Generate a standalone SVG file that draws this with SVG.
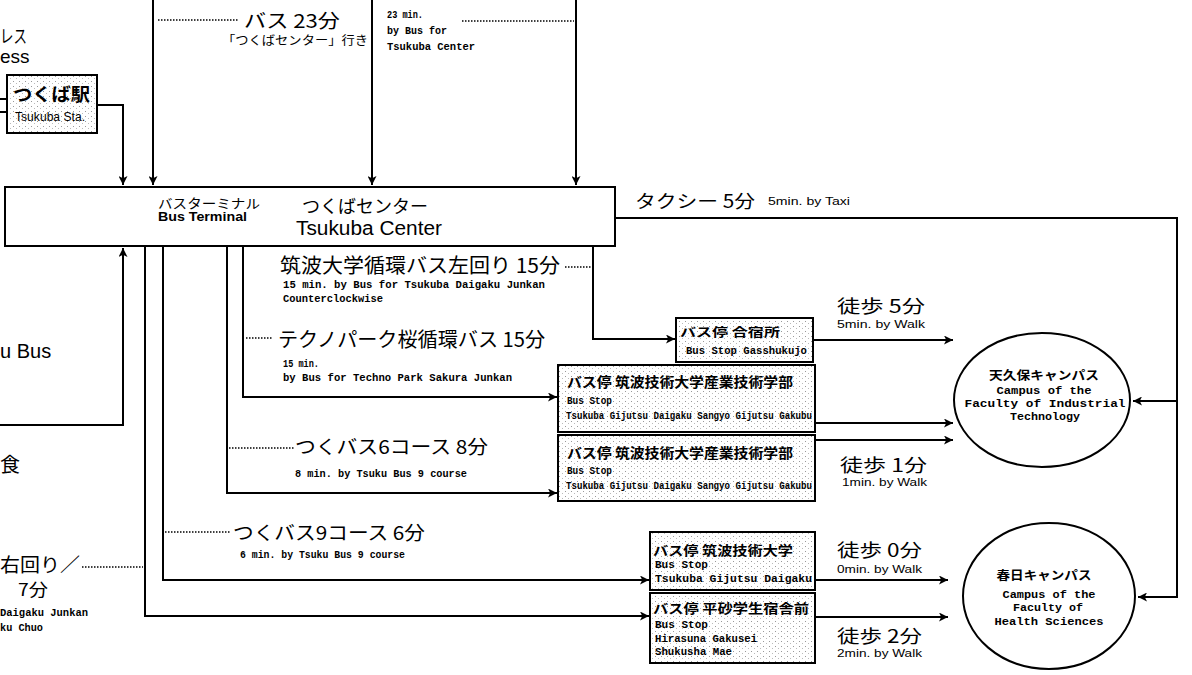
<svg xmlns="http://www.w3.org/2000/svg" width="1192" height="675" viewBox="0 0 1192 675">
<style>
.ln{fill:none;stroke:#000;stroke-width:2}
.dot{fill:none;stroke:#000;stroke-width:1.5;stroke-dasharray:1.5 1.5}
.box{fill:url(#tone);stroke:#000;stroke-width:2}
.cbox{fill:#fff;stroke:#000;stroke-width:2}
.ell{fill:#fff;stroke:#000;stroke-width:2}
.jp{font-family:"Noto Sans CJK JP","Noto Sans",sans-serif;fill:#000}
.jb{font-family:"Noto Sans CJK JP","Noto Sans",sans-serif;font-weight:bold;fill:#000}
.en{font-family:"Liberation Sans",Arial,sans-serif;fill:#000}
.mo{font-family:"Liberation Mono","DejaVu Sans Mono",monospace;font-weight:bold;fill:#000}
.mid{text-anchor:middle}
</style>
<defs>
<marker id="ah" viewBox="0 0 10 10" refX="10" refY="5" markerWidth="11" markerHeight="9" markerUnits="userSpaceOnUse" orient="auto">
<path d="M0,0 L10,5 L0,10 L2.5,5 z" fill="#000"/>
</marker>
<pattern id="tone" width="6" height="5" patternUnits="userSpaceOnUse">
<rect width="6" height="5" fill="#fff"/>
<rect x="1" y="1" width="1" height="1" fill="#999"/>
<rect x="4" y="3" width="1" height="1" fill="#bbb"/>
</pattern>
</defs>
<rect width="1192" height="675" fill="#fff"/>

<g id="connectors">
<path class="ln" d="M97,105 H123 V185" marker-end="url(#ah)"/>
<path class="ln" d="M153,0 V185" marker-end="url(#ah)"/>
<path class="ln" d="M372,0 V185" marker-end="url(#ah)"/>
<path class="ln" d="M576,0 V185" marker-end="url(#ah)"/>
<path class="ln" d="M0,425 H123 V248" marker-end="url(#ah)"/>
<path class="ln" d="M145,246 V616 H649" marker-end="url(#ah)"/>
<path class="ln" d="M163,246 V580 H649" marker-end="url(#ah)"/>
<path class="ln" d="M227,246 V493 H557" marker-end="url(#ah)"/>
<path class="ln" d="M243,246 V397 H557" marker-end="url(#ah)"/>
<path class="ln" d="M593,246 V339 H675" marker-end="url(#ah)"/>
<path class="ln" d="M813,340 H953" marker-end="url(#ah)"/>
<path class="ln" d="M815,423 H953" marker-end="url(#ah)"/>
<path class="ln" d="M815,440 H953" marker-end="url(#ah)"/>
<path class="ln" d="M815,580 H948" marker-end="url(#ah)"/>
<path class="ln" d="M815,617 H948" marker-end="url(#ah)"/>
<path class="ln" d="M615,218 H1177 V597 H1138" marker-end="url(#ah)"/>
<path class="ln" d="M1177,401 H1133" marker-end="url(#ah)"/>
<path class="ln" d="M0,99 H7 M0,112 H7"/>
<path class="dot" d="M158,20 H238"/>
<path class="dot" d="M462,21 H574"/>
<path class="dot" d="M565,267 H592"/>
<path class="dot" d="M246,338 H273"/>
<path class="dot" d="M229,448 H295"/>
<path class="dot" d="M165,532 H230"/>
<path class="dot" d="M82,567 H143"/>
</g>

<g id="labels">
<text class="jp" x="0" y="43" font-size="18" textLength="27" lengthAdjust="spacingAndGlyphs">レス</text>
<text class="en" x="0" y="63" font-size="19">ess</text>
<text class="jp" x="244" y="28" font-size="19" textLength="96" lengthAdjust="spacingAndGlyphs">バス 23分</text>
<text class="jp" x="222" y="45" font-size="12" textLength="146" lengthAdjust="spacingAndGlyphs">「つくばセンター」行き</text>
<text class="mo" x="387" y="18" font-size="10" textLength="36" lengthAdjust="spacingAndGlyphs">23 min.</text>
<text class="mo" x="387" y="34" font-size="10" textLength="60" lengthAdjust="spacingAndGlyphs">by Bus for</text>
<text class="mo" x="387" y="50" font-size="10" textLength="88" lengthAdjust="spacingAndGlyphs">Tsukuba Center</text>
<text class="jp" x="635" y="208" font-size="18" textLength="120" lengthAdjust="spacingAndGlyphs">タクシー 5分</text>
<text class="en" x="768" y="205" font-size="11" textLength="82" lengthAdjust="spacingAndGlyphs">5min. by Taxi</text>
<text class="jp" x="280" y="273" font-size="20" textLength="280" lengthAdjust="spacingAndGlyphs">筑波大学循環バス左回り 15分</text>
<text class="mo" x="283" y="288" font-size="10" textLength="262" lengthAdjust="spacingAndGlyphs">15 min. by Bus for Tsukuba Daigaku Junkan</text>
<text class="mo" x="283" y="302" font-size="10" textLength="100" lengthAdjust="spacingAndGlyphs">Counterclockwise</text>
<text class="jp" x="278" y="347" font-size="20" textLength="267" lengthAdjust="spacingAndGlyphs">テクノパーク桜循環バス 15分</text>
<text class="mo" x="283" y="367" font-size="10" textLength="36" lengthAdjust="spacingAndGlyphs">15 min.</text>
<text class="mo" x="283" y="381" font-size="10" textLength="229" lengthAdjust="spacingAndGlyphs">by Bus for Techno Park Sakura Junkan</text>
<text class="en" x="0" y="358" font-size="20">u Bus</text>
<text class="jp" x="0" y="472" font-size="20">食</text>
<text class="jp" x="295" y="454" font-size="19" textLength="193" lengthAdjust="spacingAndGlyphs">つくバス6コース 8分</text>
<text class="mo" x="295" y="477" font-size="10" textLength="172" lengthAdjust="spacingAndGlyphs">8 min. by Tsuku Bus 9 course</text>
<text class="jp" x="233" y="540" font-size="19" textLength="192" lengthAdjust="spacingAndGlyphs">つくバス9コース 6分</text>
<text class="mo" x="240" y="558" font-size="10" textLength="165" lengthAdjust="spacingAndGlyphs">6 min. by Tsuku Bus 9 course</text>
<text class="jp" x="0" y="572" font-size="19" textLength="80" lengthAdjust="spacingAndGlyphs">右回り／</text>
<text class="jp" x="18" y="596" font-size="17" textLength="30" lengthAdjust="spacingAndGlyphs">7分</text>
<text class="mo" x="0" y="616" font-size="10" textLength="88" lengthAdjust="spacingAndGlyphs">Daigaku Junkan</text>
<text class="mo" x="0" y="631" font-size="10" textLength="43" lengthAdjust="spacingAndGlyphs">ku Chuo</text>
<text class="jp" x="837" y="313" font-size="18" textLength="88" lengthAdjust="spacingAndGlyphs">徒歩 5分</text>
<text class="en" x="837" y="328" font-size="11" textLength="88" lengthAdjust="spacingAndGlyphs">5min. by Walk</text>
<text class="jp" x="840" y="472" font-size="18" textLength="87" lengthAdjust="spacingAndGlyphs">徒歩 1分</text>
<text class="en" x="842" y="486" font-size="11" textLength="85" lengthAdjust="spacingAndGlyphs">1min. by Walk</text>
<text class="jp" x="837" y="557" font-size="18" textLength="85" lengthAdjust="spacingAndGlyphs">徒歩 0分</text>
<text class="en" x="837" y="573" font-size="11" textLength="85" lengthAdjust="spacingAndGlyphs">0min. by Walk</text>
<text class="jp" x="837" y="643" font-size="18" textLength="85" lengthAdjust="spacingAndGlyphs">徒歩 2分</text>
<text class="en" x="837" y="657" font-size="11" textLength="85" lengthAdjust="spacingAndGlyphs">2min. by Walk</text>
</g>

<g id="tsukuba-center">
<rect class="cbox" x="5" y="187" width="610" height="59"/>
<text class="jp" x="158" y="208" font-size="13" textLength="102" lengthAdjust="spacingAndGlyphs">バスターミナル</text>
<text class="en" x="158" y="221" font-size="12" font-weight="bold" textLength="89" lengthAdjust="spacingAndGlyphs">Bus Terminal</text>
<text class="jp" x="302" y="213" font-size="18" textLength="126" lengthAdjust="spacingAndGlyphs">つくばセンター</text>
<text class="en" x="296" y="235" font-size="20" textLength="146" lengthAdjust="spacingAndGlyphs">Tsukuba Center</text>
</g>

<g id="tsukuba-sta">
<rect class="box" x="7" y="75" width="90" height="58"/>
<text class="jb" x="13" y="101" font-size="18" textLength="77" lengthAdjust="spacingAndGlyphs">つくば駅</text>
<text class="en" x="15" y="121" font-size="13" textLength="70" lengthAdjust="spacingAndGlyphs">Tsukuba Sta.</text>
</g>

<g id="stop-gasshukujo">
<rect class="box" x="676" y="318" width="137" height="44"/>
<text class="jb" x="680" y="337" font-size="12" textLength="100" lengthAdjust="spacingAndGlyphs">バス停 合宿所</text>
<text class="mo" x="686" y="354" font-size="10" textLength="121" lengthAdjust="spacingAndGlyphs">Bus Stop Gasshukujo</text>
</g>

<g id="stop-sangyo-1">
<rect class="box" x="558" y="365" width="257" height="67"/>
<text class="jb" x="567" y="387" font-size="14" textLength="226" lengthAdjust="spacingAndGlyphs">バス停 筑波技術大学産業技術学部</text>
<text class="mo" x="567" y="404" font-size="10" textLength="45" lengthAdjust="spacingAndGlyphs">Bus Stop</text>
<text class="mo" x="566" y="419" font-size="10" textLength="246" lengthAdjust="spacingAndGlyphs">Tsukuba Gijutsu Daigaku Sangyo Gijutsu Gakubu</text>
</g>

<g id="stop-sangyo-2">
<rect class="box" x="558" y="435" width="257" height="66"/>
<text class="jb" x="567" y="458" font-size="14" textLength="226" lengthAdjust="spacingAndGlyphs">バス停 筑波技術大学産業技術学部</text>
<text class="mo" x="567" y="474" font-size="10" textLength="45" lengthAdjust="spacingAndGlyphs">Bus Stop</text>
<text class="mo" x="566" y="489" font-size="10" textLength="246" lengthAdjust="spacingAndGlyphs">Tsukuba Gijutsu Daigaku Sangyo Gijutsu Gakubu</text>
</g>

<g id="stop-gijutsu-daigaku">
<rect class="box" x="650" y="532" width="165" height="58"/>
<text class="jb" x="653" y="555" font-size="13" textLength="140" lengthAdjust="spacingAndGlyphs">バス停 筑波技術大学</text>
<text class="mo" x="655" y="568" font-size="10" textLength="53" lengthAdjust="spacingAndGlyphs">Bus Stop</text>
<text class="mo" x="655" y="582" font-size="10" textLength="157" lengthAdjust="spacingAndGlyphs">Tsukuba Gijutsu Daigaku</text>
</g>

<g id="stop-hirasuna">
<rect class="box" x="650" y="593" width="165" height="70"/>
<text class="jb" x="653" y="613" font-size="13" textLength="156" lengthAdjust="spacingAndGlyphs">バス停 平砂学生宿舎前</text>
<text class="mo" x="655" y="628" font-size="10" textLength="53" lengthAdjust="spacingAndGlyphs">Bus Stop</text>
<text class="mo" x="655" y="642" font-size="10" textLength="102" lengthAdjust="spacingAndGlyphs">Hirasuna Gakusei</text>
<text class="mo" x="655" y="655" font-size="10" textLength="77" lengthAdjust="spacingAndGlyphs">Shukusha Mae</text>
</g>

<g id="campus-amakubo">
<ellipse class="ell" cx="1042" cy="400" rx="88" ry="67"/>
<text class="jb mid" x="1044" y="380" font-size="12" textLength="110" lengthAdjust="spacingAndGlyphs">天久保キャンパス</text>
<text class="mo mid" x="1044" y="394" font-size="11" textLength="95" lengthAdjust="spacingAndGlyphs">Campus of the</text>
<text class="mo mid" x="1045" y="407" font-size="11" textLength="161" lengthAdjust="spacingAndGlyphs">Faculty of Industrial</text>
<text class="mo mid" x="1045" y="420" font-size="11" textLength="70" lengthAdjust="spacingAndGlyphs">Technology</text>
</g>

<g id="campus-kasuga">
<ellipse class="ell" cx="1049" cy="596" rx="86" ry="73"/>
<text class="jb mid" x="1044" y="580" font-size="12" textLength="95" lengthAdjust="spacingAndGlyphs">春日キャンパス</text>
<text class="mo mid" x="1049" y="598" font-size="11" textLength="93" lengthAdjust="spacingAndGlyphs">Campus of the</text>
<text class="mo mid" x="1048" y="611" font-size="11" textLength="70" lengthAdjust="spacingAndGlyphs">Faculty of</text>
<text class="mo mid" x="1049" y="625" font-size="11" textLength="109" lengthAdjust="spacingAndGlyphs">Health Sciences</text>
</g>
</svg>
